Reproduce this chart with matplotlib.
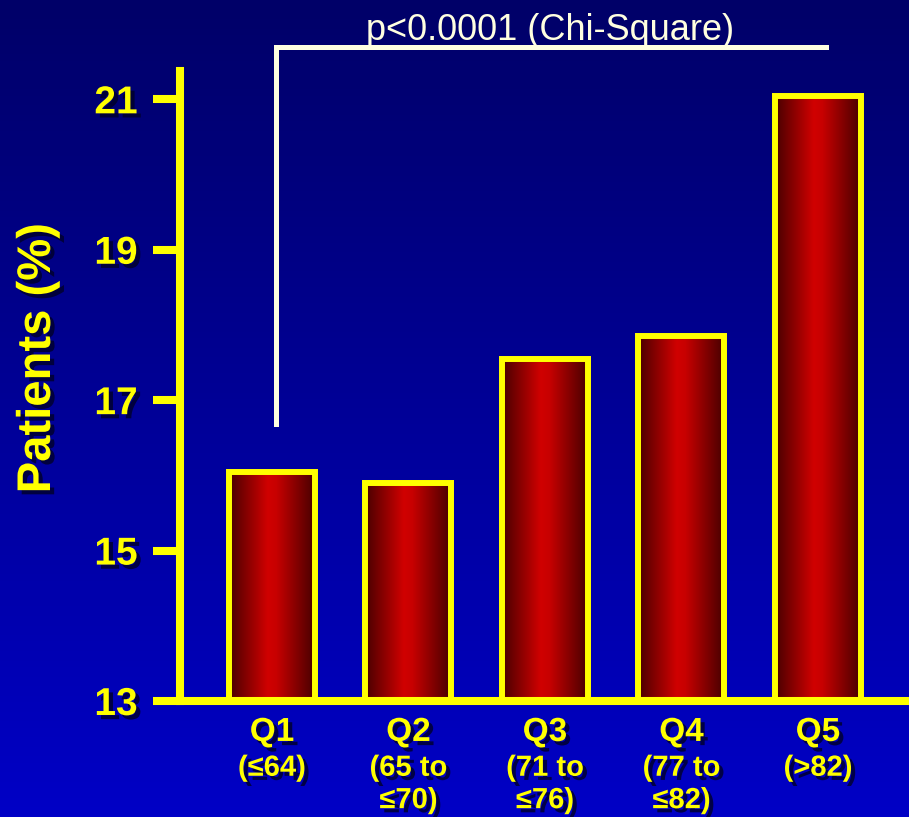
import numpy as np
import matplotlib.pyplot as plt
import matplotlib.patheffects as pe
from matplotlib.colors import LinearSegmentedColormap

plt.rcParams['font.family'] = ['Liberation Sans', 'DejaVu Sans']

# quintile groups and share of patients (%)
groups = ['Q1', 'Q2', 'Q3', 'Q4', 'Q5']
age_ranges = ['(≤64)', '(65 to\n≤70)', '(71 to\n≤76)', '(77 to\n≤82)', '(>82)']
patients = [16.05, 15.9, 17.55, 17.85, 21.05]
y_ticks = [13, 15, 17, 19, 21]
p_text = 'p<0.0001 (Chi-Square)'

YELLOW = '#ffff00'
CREAM = '#ffffe0'
shadow = [pe.withSimplePatchShadow(offset=(3, -3), shadow_rgbFace='#000028', alpha=0.8)]

fig = plt.figure(figsize=(9.09, 8.17), dpi=100)

# blue gradient background
bg = fig.add_axes([0, 0, 1, 1], zorder=0)
bg_cmap = LinearSegmentedColormap.from_list('bg', ['#000068', '#0000c6'])
bg.imshow(np.linspace(0, 1, 256).reshape(-1, 1), aspect='auto', cmap=bg_cmap,
          extent=[0, 1, 0, 1], origin='upper')
bg.axis('off')

ax = fig.add_axes([0.198, 0.142, 0.802, 0.776], zorder=1)
ax.set_facecolor('none')

x = np.arange(len(groups))
base = y_ticks[0]
bars = ax.bar(x, np.array(patients) - base, bottom=base, width=0.63, color='none',
              edgecolor=YELLOW, linewidth=4.3, zorder=3)

# shaded red fill for each bar
bar_cmap = LinearSegmentedColormap.from_list(
    'bar', [(0, '#480000'), (0.45, '#d00000'), (0.55, '#c80000'), (1, '#480000')])
hgrad = np.linspace(0, 1, 256).reshape(1, -1)
for b in bars:
    x0, y0, w, h = b.get_x(), b.get_y(), b.get_width(), b.get_height()
    im = ax.imshow(hgrad, cmap=bar_cmap, aspect='auto',
                   extent=[x0, x0 + w, y0, y0 + h], zorder=2)
    im.set_clip_path(b)

ax.set_xlim(-0.674, 4.667)
ax.set_ylim(13, 21.43)

for s in ['top', 'right']:
    ax.spines[s].set_visible(False)
for s in ['left', 'bottom']:
    ax.spines[s].set_color(YELLOW)
    ax.spines[s].set_linewidth(5.8)
ax.spines['left'].set_bounds(13, 21.38)

ax.set_yticks(y_ticks)
ax.tick_params(axis='y', length=19.4, width=5.8, color=YELLOW, pad=11,
               labelsize=28, labelcolor=YELLOW)
for lbl in ax.get_yticklabels():
    lbl.set_fontweight('bold')
    lbl.set_path_effects(shadow)

ax.set_xticks(x)
ax.set_xticklabels([])
ax.tick_params(axis='x', length=0)

for i in x:
    ax.annotate(groups[i], xy=(i, 0), xycoords=('data', 'axes fraction'),
                xytext=(0, -11.5), textcoords='offset points', ha='center', va='top',
                fontsize=24, fontweight='bold', color=YELLOW, path_effects=shadow,
                annotation_clip=False)
    ax.annotate(age_ranges[i], xy=(i, 0), xycoords=('data', 'axes fraction'),
                xytext=(0, -38), textcoords='offset points', ha='center', va='top',
                fontsize=21, fontweight='bold', color=YELLOW, path_effects=shadow,
                linespacing=1.2, annotation_clip=False)

fig.text(38 / 909, 1 - 358 / 817, 'Patients (%)', rotation=90, ha='center', va='center',
         fontsize=34, fontweight='bold', color=YELLOW, path_effects=shadow)

# significance bracket from Q1 to Q5
ax.plot([0.03, 0.03, 4.06], [16.68, 21.7, 21.7], color=CREAM, lw=3.6,
        solid_joinstyle='miter', clip_on=False, zorder=4)
fig.text(550 / 909, 1 - 40 / 817, p_text, ha='center', va='baseline',
         fontsize=26, color=CREAM)

fig.savefig('out.png', dpi=100)
